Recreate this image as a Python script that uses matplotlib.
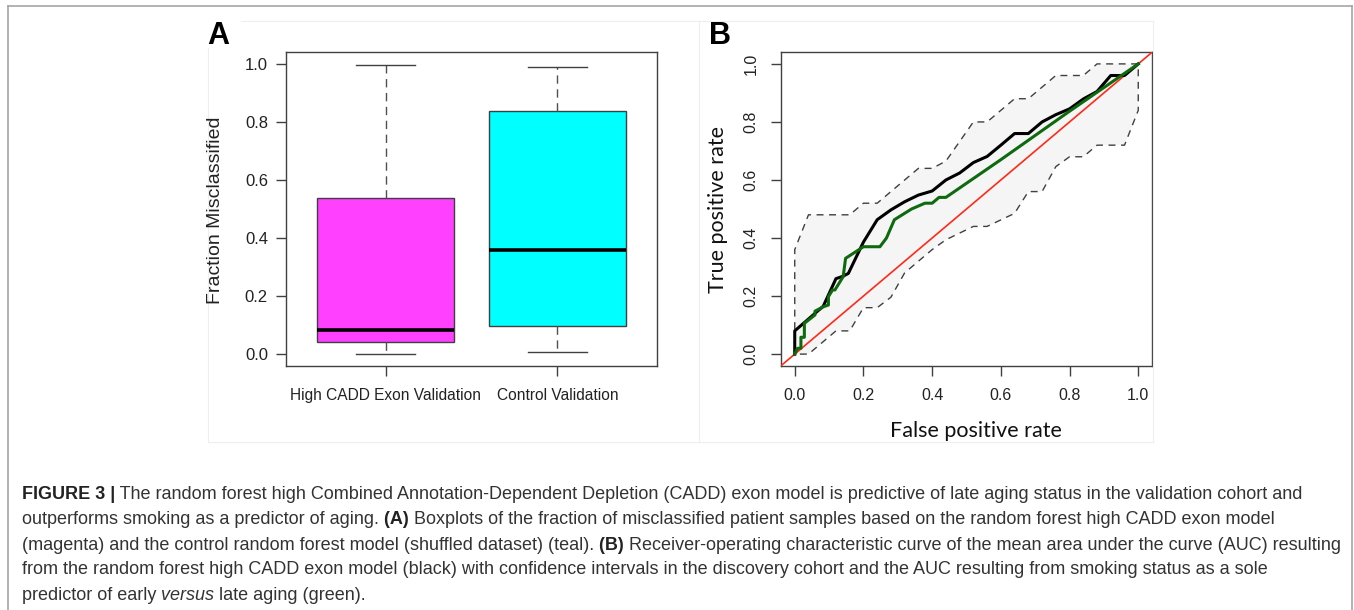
import matplotlib.pyplot as plt
from matplotlib.lines import Line2D
from matplotlib.patches import Rectangle

plt.rcParams['font.family'] = ['Liberation Sans', 'DejaVu Sans']

# ---- Panel A: boxplot summary values
groups = ['High CADD Exon Validation', 'Control Validation']
whisker_low = [0.0, 0.006]
q1 = [0.041, 0.098]
medians = [0.083, 0.36]
q3 = [0.537, 0.836]
whisker_high = [0.995, 0.99]
box_colors = ['#ff40ff', '#00ffff']

# ---- Panel B: ROC curves
roc_fpr = [0, 0, 0.083, 0.12, 0.14, 0.156, 0.2, 0.24, 0.28, 0.32, 0.36, 0.40, 0.44,
           0.48, 0.52, 0.56, 0.60, 0.64, 0.68, 0.72, 0.76, 0.80, 0.84, 0.88, 0.92, 0.96, 1.0]
roc_tpr = [0, 0.08, 0.165, 0.26, 0.268, 0.278, 0.386, 0.463, 0.497, 0.525, 0.548, 0.562, 0.60,
           0.624, 0.66, 0.681, 0.72, 0.76, 0.76, 0.80, 0.825, 0.845, 0.879, 0.905, 0.96, 0.96, 1.0]

smoke_fpr = [0, 0.008, 0.018, 0.018, 0.028, 0.028, 0.059, 0.059, 0.083, 0.098, 0.098, 0.11,
             0.117, 0.141, 0.148, 0.20, 0.248, 0.267, 0.29, 0.34, 0.379, 0.40, 0.42, 0.44,
             0.60, 0.80, 1.0]
smoke_tpr = [0, 0.02, 0.02, 0.058, 0.058, 0.106, 0.135, 0.148, 0.163, 0.169, 0.198, 0.221,
             0.221, 0.267, 0.33, 0.37, 0.37, 0.40, 0.463, 0.50, 0.52, 0.52, 0.54, 0.54,
             0.67, 0.837, 1.0]

ci_up_fpr = [0, 0, 0.04, 0.16, 0.20, 0.24, 0.36, 0.40, 0.44, 0.52, 0.56, 0.64, 0.68, 0.76,
             0.84, 0.88, 1.0]
ci_up_tpr = [0, 0.36, 0.48, 0.48, 0.52, 0.52, 0.64, 0.64, 0.665, 0.80, 0.80, 0.88, 0.88,
             0.96, 0.96, 1.0, 1.0]
ci_lo_fpr = [1.0, 1.0, 0.96, 0.88, 0.84, 0.80, 0.76, 0.72, 0.68, 0.64, 0.56, 0.52, 0.44,
             0.40, 0.32, 0.28, 0.24, 0.20, 0.16, 0.12, 0.04, 0]
ci_lo_tpr = [1.0, 0.84, 0.72, 0.72, 0.68, 0.68, 0.646, 0.56, 0.56, 0.485, 0.44, 0.44, 0.394,
             0.36, 0.28, 0.196, 0.16, 0.16, 0.08, 0.08, 0, 0]

ticks = [0.0, 0.2, 0.4, 0.6, 0.8, 1.0]
tick_labels = ['0.0', '0.2', '0.4', '0.6', '0.8', '1.0']

W, H = 1354, 610
fig = plt.figure(figsize=(W / 100, H / 100), dpi=100, facecolor='white')


def fx(px):
    return px / W


def fy(py):
    return 1 - py / H


# frames around the figure
frame = dict(transform=fig.transFigure, color='#a6a6a6', lw=1.2)
fig.add_artist(Line2D([fx(8), fx(8)], [fy(6), fy(612)], **frame))
fig.add_artist(Line2D([fx(8), fx(1352)], [fy(6), fy(6)], **frame))
fig.add_artist(Line2D([fx(1352), fx(1352)], [fy(6), fy(612)], **frame))
inner = dict(transform=fig.transFigure, color='#eeeeee', lw=0.8)
fig.add_artist(Line2D([fx(241), fx(1153)], [fy(21), fy(21)], **inner))
fig.add_artist(Line2D([fx(208), fx(208)], [fy(48), fy(442)], **inner))
fig.add_artist(Line2D([fx(1153), fx(1153)], [fy(21), fy(442)], **inner))
fig.add_artist(Line2D([fx(208), fx(1153)], [fy(442), fy(442)], **inner))
fig.add_artist(Line2D([fx(699), fx(699)], [fy(21), fy(442)], **inner))

spine_col = '#404040'

# ---------------- Panel A
axA = fig.add_axes([fx(286), fy(366), fx(371), 314 / H])
stats = []
for i in range(len(groups)):
    stats.append(dict(med=medians[i], q1=q1[i], q3=q3[i],
                      whislo=whisker_low[i], whishi=whisker_high[i], fliers=[]))
bp = axA.bxp(stats, positions=[1, 2], widths=0.8, patch_artist=True,
             showfliers=False,
             boxprops=dict(edgecolor=spine_col, linewidth=1.0),
             medianprops=dict(color='black', linewidth=2.6, solid_capstyle='butt'),
             whiskerprops=dict(color='#505050', linewidth=1.0, linestyle=(0, (6, 4))),
             capprops=dict(color='#404040', linewidth=1.0),
             capwidths=0.34)
for patch, c in zip(bp['boxes'], box_colors):
    patch.set_facecolor(c)
axA.set_xlim(0.42, 2.58)
axA.set_ylim(-0.041, 1.041)
axA.set_yticks(ticks)
axA.set_yticklabels(tick_labels)
axA.set_xticks([1, 2])
axA.set_xticklabels(groups)
axA.tick_params(axis='y', direction='out', length=7, width=1, color=spine_col,
                labelsize=12, pad=6, labelcolor='#222222')
axA.tick_params(axis='x', direction='out', length=7, width=1, color=spine_col,
                labelsize=11.2, pad=9, labelcolor='#222222')
for s in axA.spines.values():
    s.set_color(spine_col)
    s.set_linewidth(1.0)
fig.text(fx(216), fy(210), 'Fraction Misclassified', rotation=90, ha='center',
         va='center', fontsize=14, color='#222222')
fig.text(fx(207), fy(44), 'A', fontsize=22, fontweight='bold', ha='left', va='baseline')

# ---------------- Panel B
axB = fig.add_axes([fx(781), fy(366), fx(371), 314 / H])
band_x = ci_up_fpr + ci_lo_fpr
band_y = ci_up_tpr + ci_lo_tpr
axB.fill(band_x, band_y, facecolor='#f5f5f5', edgecolor='none', zorder=1)
axB.plot(band_x, band_y, color='#404040', lw=1.0, linestyle=(0, (5, 4)), zorder=2)
axB.plot([-0.1, 1.1], [-0.1, 1.1], color='#ff2a1a', lw=1.2, zorder=3)
axB.plot(roc_fpr, roc_tpr, color='black', lw=2.2, zorder=4)
axB.plot(smoke_fpr, smoke_tpr, color='#0f6a0f', lw=2.2, zorder=5)
axB.set_xlim(-0.04, 1.04)
axB.set_ylim(-0.041, 1.041)
axB.set_xticks(ticks)
axB.set_xticklabels(tick_labels)
axB.set_yticks(ticks)
axB.set_yticklabels(tick_labels, rotation=90, va='center')
axB.tick_params(axis='both', direction='out', length=7, width=1, color=spine_col,
                labelsize=11.5, labelcolor='#222222')
axB.tick_params(axis='x', pad=9)
axB.tick_params(axis='y', pad=9)
for s in axB.spines.values():
    s.set_color(spine_col)
    s.set_linewidth(1.0)
lab_font = ['Lato', 'DejaVu Sans']
fig.text(fx(718), fy(210), 'True positive rate', rotation=90, ha='center',
         va='center', fontsize=15.5, family=lab_font, color='#111111')
fig.text(fx(976), fy(437), 'False positive rate', ha='center', va='baseline',
         fontsize=15.5, family=lab_font, color='#111111')
fig.text(fx(709), fy(44), 'B', fontsize=22, fontweight='bold', ha='left', va='baseline')

# ---------------- Caption
caption = [
    [('FIGURE 3 |', 'bold'), (' The random forest high Combined Annotation-Dependent Depletion '
                                '(CADD) exon model is predictive of late aging status in the '
                                'validation cohort and', 'normal')],
    [('outperforms smoking as a predictor of aging.', 'normal'), (' (A)', 'bold'),
     (' Boxplots of the fraction of misclassified patient samples based on the random forest '
      'high CADD exon model', 'normal')],
    [('(magenta) and the control random forest model (shuffled dataset) (teal).', 'normal'),
     (' (B)', 'bold'),
     (' Receiver-operating characteristic curve of the mean area under the curve (AUC) '
      'resulting', 'normal')],
    [('from the random forest high CADD exon model (black) with confidence intervals in the '
      'discovery cohort and the AUC resulting from smoking status as a sole', 'normal')],
    [('predictor of early', 'normal'), (' versus', 'italic'), (' late aging (green).', 'normal')],
]
baselines = [499, 524.5, 549.5, 574.5, 599.5]
renderer = fig.canvas.get_renderer()
for segs, base in zip(caption, baselines):
    x = 22
    for txt, style in segs:
        kw = dict(fontsize=13, color='#333333', ha='left', va='baseline')
        if style == 'bold':
            kw['fontweight'] = 'bold'
            kw['color'] = '#222222'
        elif style == 'italic':
            kw['fontstyle'] = 'italic'
        t = fig.text(fx(x), fy(base), txt, **kw)
        x += t.get_window_extent(renderer=renderer).width

fig.savefig('out.png', dpi=100, facecolor='white')
